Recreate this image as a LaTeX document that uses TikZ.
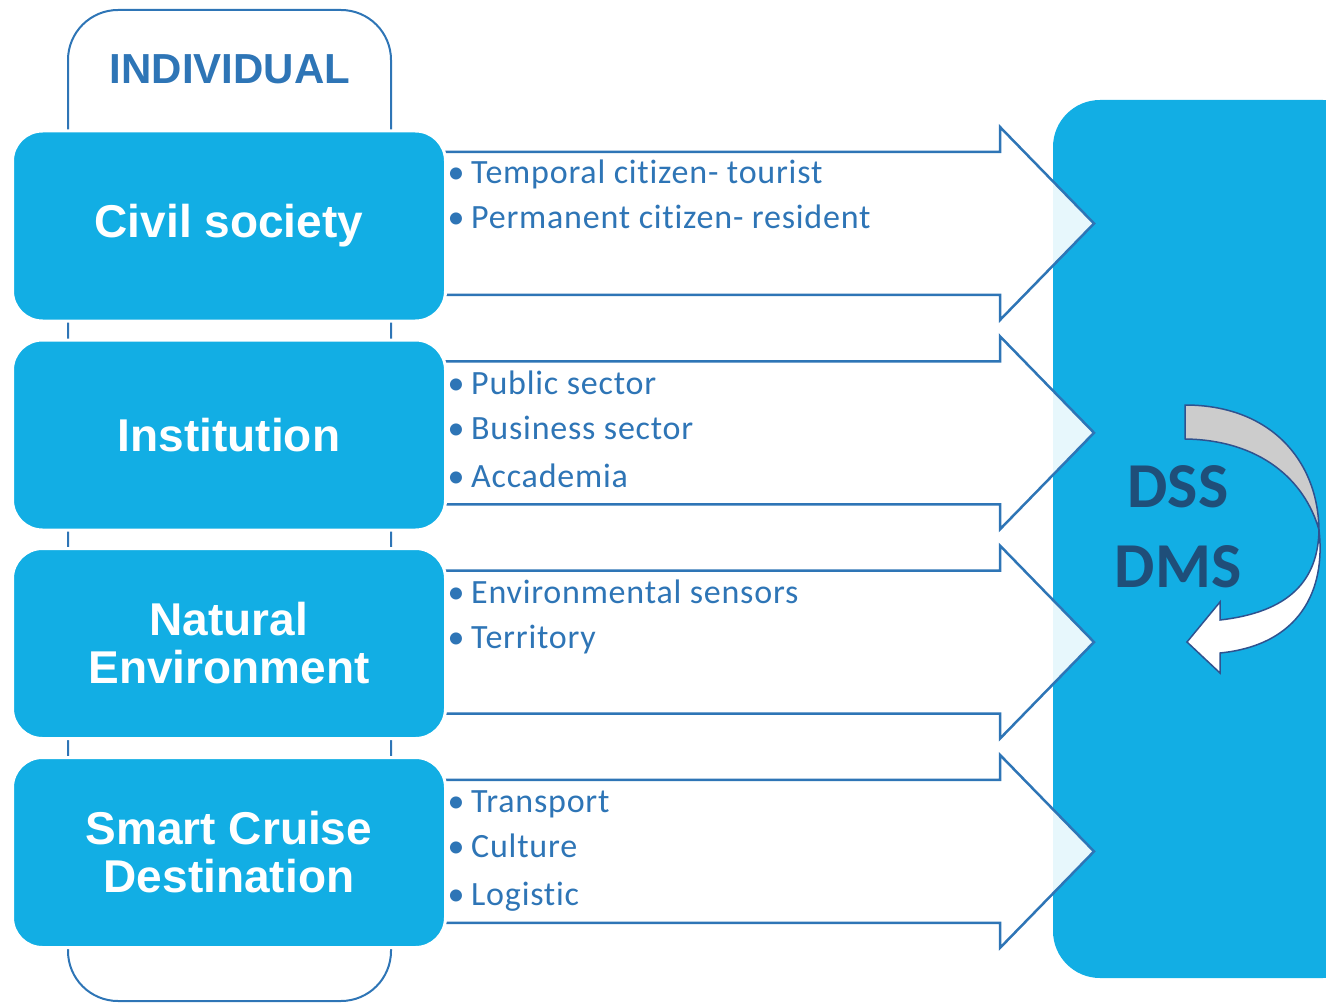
\documentclass[tikz,border=0pt]{standalone}
\usepackage{fontspec}
\setmainfont{Liberation Sans}
\newfontfamily\calib[Ligatures={NoCommon},LetterSpace=2.3]{Carlito}
\newfontfamily\calibb[Ligatures={NoCommon}]{Carlito}
\definecolor{boxblue}{RGB}{18,174,228}
\definecolor{lineblue}{RGB}{46,117,182}
\definecolor{navyblue}{RGB}{31,78,121}
\definecolor{curveline}{RGB}{47,82,143}
\definecolor{greyfill}{RGB}{204,204,204}
\begin{document}
\begin{tikzpicture}[x=1pt,y=-1pt,
  bluebox/.style={fill=boxblue,draw=white,line width=3pt,rounded corners=30pt,
    minimum width=433pt,minimum height=190pt,inner sep=0pt,text=white,
    font=\fontsize{46}{48}\selectfont\bfseries,align=center},
  blockarrow/.style={fill=white,fill opacity=0.9,draw=lineblue,draw opacity=1,line width=2.5pt,line join=miter},
  bullettext/.style={anchor=base west,inner sep=0pt,text=lineblue,font=\calib\fontsize{34}{40}\selectfont},
  bulletdot/.style={anchor=base,inner sep=0pt,text=lineblue,font=\calibb\fontsize{34}{40}\selectfont},
  bigtext/.style={inner sep=0pt,text=navyblue,font=\calibb\fontsize{64}{70}\selectfont\bfseries}]
\useasboundingbox (0,0) rectangle (1326,1003);
% INDIVIDUAL outline
\draw[lineblue,line width=2pt,rounded corners=50pt] (68,10) rectangle (391,1001);
\node[inner sep=0pt,text=lineblue,font=\fontsize{42}{44}\selectfont\bfseries] (indiv) at (230,69) {INDIVIDUAL};
% DSS box
\fill[boxblue,rounded corners=47pt] (1053,100) rectangle (1370,978);
% block arrows
\foreach \i in {0,1,2,3}{
  \pgfmathsetmacro\o{209.3*\i}
  \draw[blockarrow] (430,{152+\o}) -- (1000,{152+\o}) -- (1000,{127+\o}) -- (1094,{223.5+\o})
     -- (1000,{320+\o}) -- (1000,{295+\o}) -- (430,{295+\o}) -- cycle;
}
% left boxes
\node[bluebox] (civil) at (229,226) {Civil society};
\node[bluebox] (inst) at (229,435) {Institution};
\node[bluebox] (nat) at (229,643.5) {Natural\\Environment};
\node[bluebox] (smart) at (229,852.5) {Smart Cruise\\Destination};
% bullets
\foreach \n/\y/\t in {b1/184/Temporal citizen- tourist,b2/229/Permanent citizen- resident,
  b3/394/Public sector,b4/439/Business sector,b5/487/Accademia,
  b6/603/Environmental sensors,b7/648/Territory,
  b8/812/Transport,b9/857/Culture,b10/905/Logistic}{
  \node[bulletdot] (\n d) at (456,\y) {•};
  \node[bullettext] (\n) at (471,\y) {\t};
}
% DSS DMS
\node[bigtext] (dss) at (1178,487) {DSS};
\node[bigtext] (dms) at (1178,567) {DMS};
% curved arrow
\draw[curveline,line width=1.5pt,fill=greyfill,line join=round]
  (1185,405) .. controls (1270,405) and (1318,460) .. (1319,530)
  .. controls (1305,480) and (1260,440) .. (1185,439) -- cycle;
\draw[curveline,line width=1.5pt,fill=white,line join=miter]
  (1319,530) .. controls (1326,590) and (1300,645) .. (1220,653)
  -- (1220,673) -- (1187,642) -- (1220,602) -- (1220,620)
  .. controls (1290,612) and (1318,580) .. (1319,530) -- cycle;
\end{tikzpicture}
\end{document}
